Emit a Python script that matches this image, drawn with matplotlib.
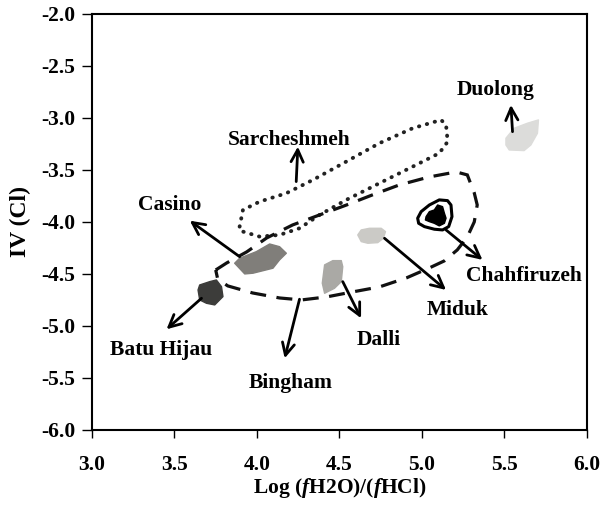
import numpy as np
from matplotlib import pyplot as plt
from matplotlib.patches import Polygon

plt.rcParams['font.family'] = 'Liberation Serif'
plt.rcParams['font.weight'] = 'bold'
plt.rcParams['mathtext.fontset'] = 'custom'
plt.rcParams['mathtext.it'] = 'Liberation Serif:italic:bold'
plt.rcParams['mathtext.rm'] = 'Liberation Serif:bold'

# deposit fields, Log(fH2O/fHCl) vs IV(Cl)
sarch_x = [3.895, 3.915, 4.016, 4.178, 4.339, 4.541, 4.742, 4.944, 5.116, 5.146,
           5.156, 5.105, 4.944, 4.742, 4.541, 4.379, 4.258, 4.137, 4.016, 3.915]
sarch_y = [-4.045, -3.885, -3.805, -3.724, -3.596, -3.420, -3.243, -3.099, -3.019, -3.067,
           -3.228, -3.339, -3.468, -3.628, -3.788, -3.933, -4.061, -4.125, -4.141, -4.093]

bingham_x = [3.750, 3.817, 3.938, 4.059, 4.216, 4.379, 4.543, 4.700, 4.863, 5.045, 5.208, 5.275,
             5.317, 5.335, 5.317, 5.275, 5.214, 5.135, 5.045, 4.906, 4.742, 4.579, 4.422,
             4.270, 4.137, 3.974, 3.823, 3.762]
bingham_y = [-4.462, -4.394, -4.288, -4.154, -4.029, -3.933, -3.837, -3.740, -3.644, -3.567, -3.519, -3.548,
             -3.721, -3.837, -4.000, -4.144, -4.269, -4.375, -4.442, -4.538, -4.625, -4.673, -4.721,
             -4.750, -4.731, -4.683, -4.615, -4.548]

casino_x = [3.865, 3.895, 3.996, 4.077, 4.137, 4.178, 4.137, 4.097, 3.976, 3.926]
casino_y = [-4.397, -4.349, -4.286, -4.212, -4.238, -4.301, -4.365, -4.445, -4.493, -4.500]

batu_x = [3.643, 3.653, 3.714, 3.754, 3.785, 3.794, 3.744, 3.694, 3.653]
batu_y = [-4.654, -4.606, -4.574, -4.558, -4.622, -4.718, -4.798, -4.782, -4.750]

dalli_x = [4.410, 4.460, 4.511, 4.520, 4.511, 4.470, 4.410, 4.396]
dalli_y = [-4.413, -4.372, -4.372, -4.430, -4.574, -4.638, -4.686, -4.589]

miduk_x = [4.611, 4.632, 4.682, 4.753, 4.779, 4.766, 4.732, 4.672, 4.632]
miduk_y = [-4.125, -4.077, -4.061, -4.061, -4.093, -4.157, -4.199, -4.205, -4.189]

duolong_x = [5.509, 5.559, 5.639, 5.706, 5.700, 5.660, 5.619, 5.529, 5.509]
duolong_y = [-3.195, -3.099, -3.051, -3.019, -3.147, -3.260, -3.314, -3.308, -3.260]

chah_out_x = [4.974, 4.995, 5.045, 5.105, 5.155, 5.176, 5.182, 5.162, 5.125, 5.075, 5.015, 4.980]
chah_out_y = [-3.964, -3.901, -3.837, -3.788, -3.795, -3.837, -3.949, -4.045, -4.077, -4.070, -4.045, -4.013]
chah_in_x = [5.025, 5.045, 5.075, 5.095, 5.125, 5.136, 5.146, 5.136, 5.105, 5.075, 5.045, 5.021]
chah_in_y = [-3.949, -3.901, -3.885, -3.837, -3.853, -3.916, -3.964, -4.013, -4.038, -4.013, -3.997, -3.981]

# name, label position (baseline), arrow start, arrow tip
names = ['Sarcheshmeh', 'Casino', 'Batu Hijau', 'Bingham', 'Dalli', 'Miduk', 'Chahfiruzeh', 'Duolong']
label_x = [4.198, 3.472, 3.421, 4.203, 4.737, 5.216, 5.619, 5.447]
label_y = [-3.260, -3.890, -5.279, -5.593, -5.183, -4.894, -4.564, -2.779]
arrow_x0 = [4.238, 3.895, 3.664, 4.258, 4.520, 4.773, 5.146, 5.549]
arrow_y0 = [-3.612, -4.334, -4.734, -4.743, -4.574, -4.157, -4.077, -3.132]
arrow_x1 = [4.248, 3.593, 3.452, 4.168, 4.631, 5.146, 5.367, 5.539]
arrow_y1 = [-3.276, -3.988, -5.032, -5.311, -4.926, -4.654, -4.365, -2.875]

fig = plt.figure(figsize=(6.13, 5.07), dpi=100)
ax = fig.add_axes([0.150, 0.152, 0.8075, 0.8205])

def field(xs, ys, color):
    ax.add_patch(Polygon(np.column_stack([xs, ys]), closed=True, facecolor=color,
                         edgecolor=color, lw=1, joinstyle='round'))

field(casino_x, casino_y, '#807e7a')
field(batu_x, batu_y, '#3c3c3a')
field(dalli_x, dalli_y, '#aaa9a5')
field(miduk_x, miduk_y, '#cbcac6')
field(duolong_x, duolong_y, '#dcdcda')
field(chah_in_x, chah_in_y, 'black')
ax.add_patch(Polygon(np.column_stack([chah_out_x, chah_out_y]), closed=True, fill=False,
                     edgecolor='black', lw=2.2, joinstyle='round'))

ax.fill(sarch_x, sarch_y, fill=False, edgecolor='#222222', lw=2.8, linestyle=(0, (0.1, 2.0)),
        capstyle='round')
ax.fill(bingham_x, bingham_y, fill=False, edgecolor='#111111', lw=2.3, linestyle=(0, (5, 3.3)))

for i, n in enumerate(names):
    ax.annotate('', xy=(arrow_x1[i], arrow_y1[i]), xytext=(arrow_x0[i], arrow_y0[i]),
                arrowprops=dict(arrowstyle='->', lw=2, color='black', mutation_scale=22,
                                shrinkA=0, shrinkB=0))
    ax.text(label_x[i], label_y[i], n, ha='center', va='baseline', fontsize=15.5, fontweight='bold')

ax.set_xlim(3.0, 6.0)
ax.set_ylim(-6.0, -2.0)
ax.set_xticks(np.arange(3.0, 6.01, 0.5))
ax.set_yticks(np.arange(-6.0, -1.99, 0.5))
ax.set_xticklabels(['%.1f' % v for v in np.arange(3.0, 6.01, 0.5)])
ax.set_yticklabels(['%.1f' % v for v in np.arange(-6.0, -1.99, 0.5)])
ax.tick_params(axis='x', direction='out', length=6, width=1, pad=12, labelsize=15.5)
ax.tick_params(axis='y', direction='out', length=7, width=1, pad=5, labelsize=15.5)
for s in ax.spines.values():
    s.set_linewidth(1.5)

ax.set_xlabel(r'Log ($f$H2O)/($f$HCl)', fontsize=15.5, fontweight='bold', labelpad=1)
ax.set_ylabel('IV (Cl)', fontsize=17, fontweight='bold', labelpad=7)

plt.savefig('out.png', dpi=100)
